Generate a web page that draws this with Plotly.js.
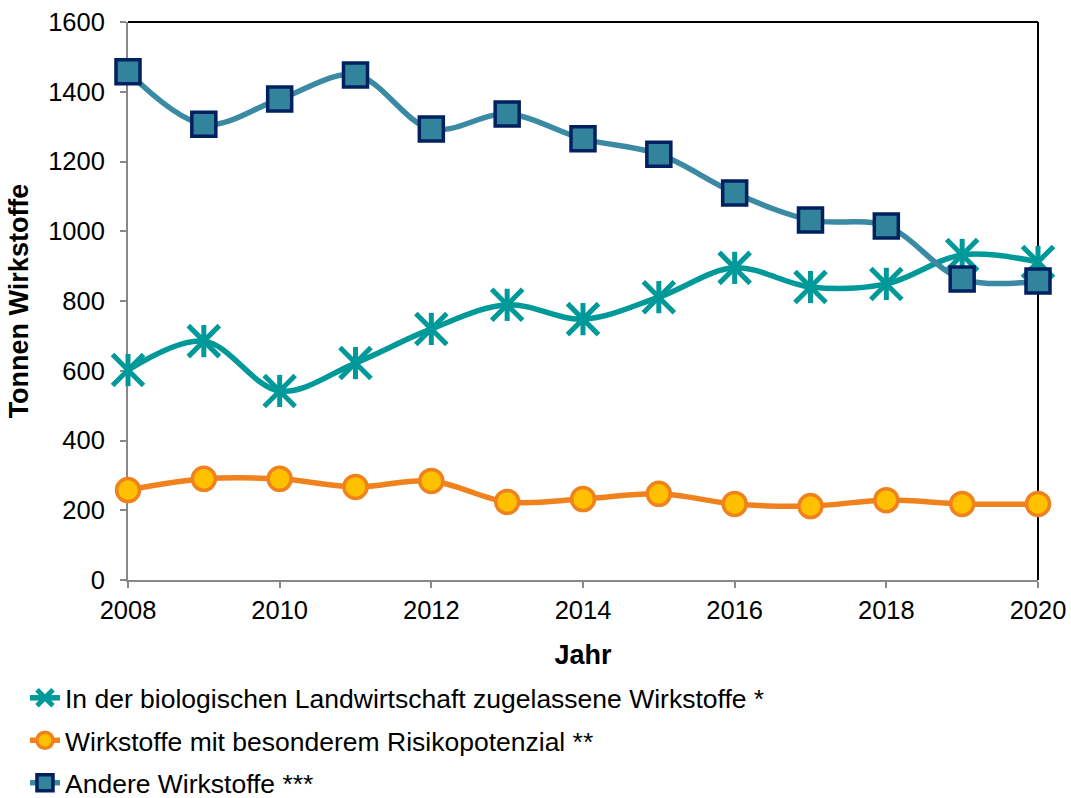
<!DOCTYPE html>
<html><head><meta charset="utf-8">
<script src="https://cdn.plot.ly/plotly-3.0.1.min.js"></script>
<style>body{margin:0;background:#fff}#c{width:1071px;height:798px}</style>
</head><body><div id="c"></div>
<script>
const years = [2008,2009,2010,2011,2012,2013,2014,2015,2016,2017,2018,2019,2020];
const bio = [602,685,542,622,720,789,748,811,895,840,849,932,912];
const risiko = [258,290,290,267,284,224,232,247,218,212,229,218,218];
const andere = [1457,1307,1379,1448,1293,1336,1265,1221,1110,1032,1015,863,857];
const names = ["In der biologischen Landwirtschaft zugelassene Wirkstoffe *","Wirkstoffe mit besonderem Risikopotenzial **","Andere Wirkstoffe ***"];
const font = "Liberation Sans, Arial, sans-serif";
const teal = "#009999";
const traces = [
 {x:years,y:bio,name:names[0],legendgroup:"a",mode:"lines+markers",cliponaxis:false,line:{shape:"spline",smoothing:1,color:teal,width:5.5},
  marker:{symbol:"x-thin-open",size:31,color:teal,line:{color:teal,width:5}}},
 {x:years,y:bio,name:names[0],legendgroup:"a",mode:"markers",cliponaxis:false,showlegend:false,hoverinfo:"skip",
  marker:{symbol:"line-ns-open",size:23,color:teal,line:{color:teal,width:5}}},
 {x:years,y:risiko,name:names[1],legendgroup:"b",mode:"lines+markers",cliponaxis:false,line:{shape:"spline",smoothing:1,color:"#F0821E",width:5.5},
  marker:{symbol:"circle",size:23,color:"#FFC000",line:{color:"#F0821E",width:3.5}}},
 {x:years,y:andere,name:names[2],legendgroup:"c",mode:"lines+markers",cliponaxis:false,line:{shape:"spline",smoothing:1,color:"#3A8AA3",width:5.5},
  marker:{symbol:"square",size:24,color:"#31849B",line:{color:"#002060",width:3.5}}}
];
const layout = {
 width:1071,height:798,paper_bgcolor:"#fff",plot_bgcolor:"#fff",
 margin:{l:128,r:33,t:22,b:218,autoexpand:false},
 font:{family:font,size:26,color:"#000"},
 showlegend:true,
 legend:{x:-0.1132,xanchor:"left",y:-0.1686,yanchor:"top",font:{family:font,size:26.5,color:"#000"},bgcolor:"rgba(0,0,0,0)",tracegroupgap:5,traceorder:"grouped"},
 xaxis:{range:[2008,2020],tickmode:"linear",tick0:2008,dtick:2,showgrid:false,zeroline:false,layer:"below traces",automargin:false,
  showline:true,linecolor:"#888",linewidth:2,ticks:"outside",ticklen:6,tickcolor:"#888",tickwidth:2,
  tickfont:{size:25.5,family:font},title:{text:"<b>Jahr</b>",font:{size:27,family:font},standoff:23}},
 yaxis:{range:[0,1600],tickmode:"linear",tick0:0,dtick:200,showgrid:false,zeroline:false,layer:"below traces",automargin:false,
  showline:true,linecolor:"#888",linewidth:2,ticks:"outside",ticklen:6,tickcolor:"#888",tickwidth:2,ticklabelstandoff:10,
  tickfont:{size:25.5,family:font},title:{text:"<b>Tonnen Wirkstoffe</b>",font:{size:27,family:font},standoff:12}},
 shapes:[
  {type:"line",xref:"paper",yref:"paper",x0:0,x1:1,y0:1,y1:1,layer:"below",line:{color:"#000",width:2}},
  {type:"line",xref:"paper",yref:"paper",x0:1,x1:1,y0:0,y1:1,layer:"below",line:{color:"#000",width:2}}
 ]
};
Plotly.newPlot("c",traces,layout,{displayModeBar:false,staticPlot:true});
</script></body></html>
